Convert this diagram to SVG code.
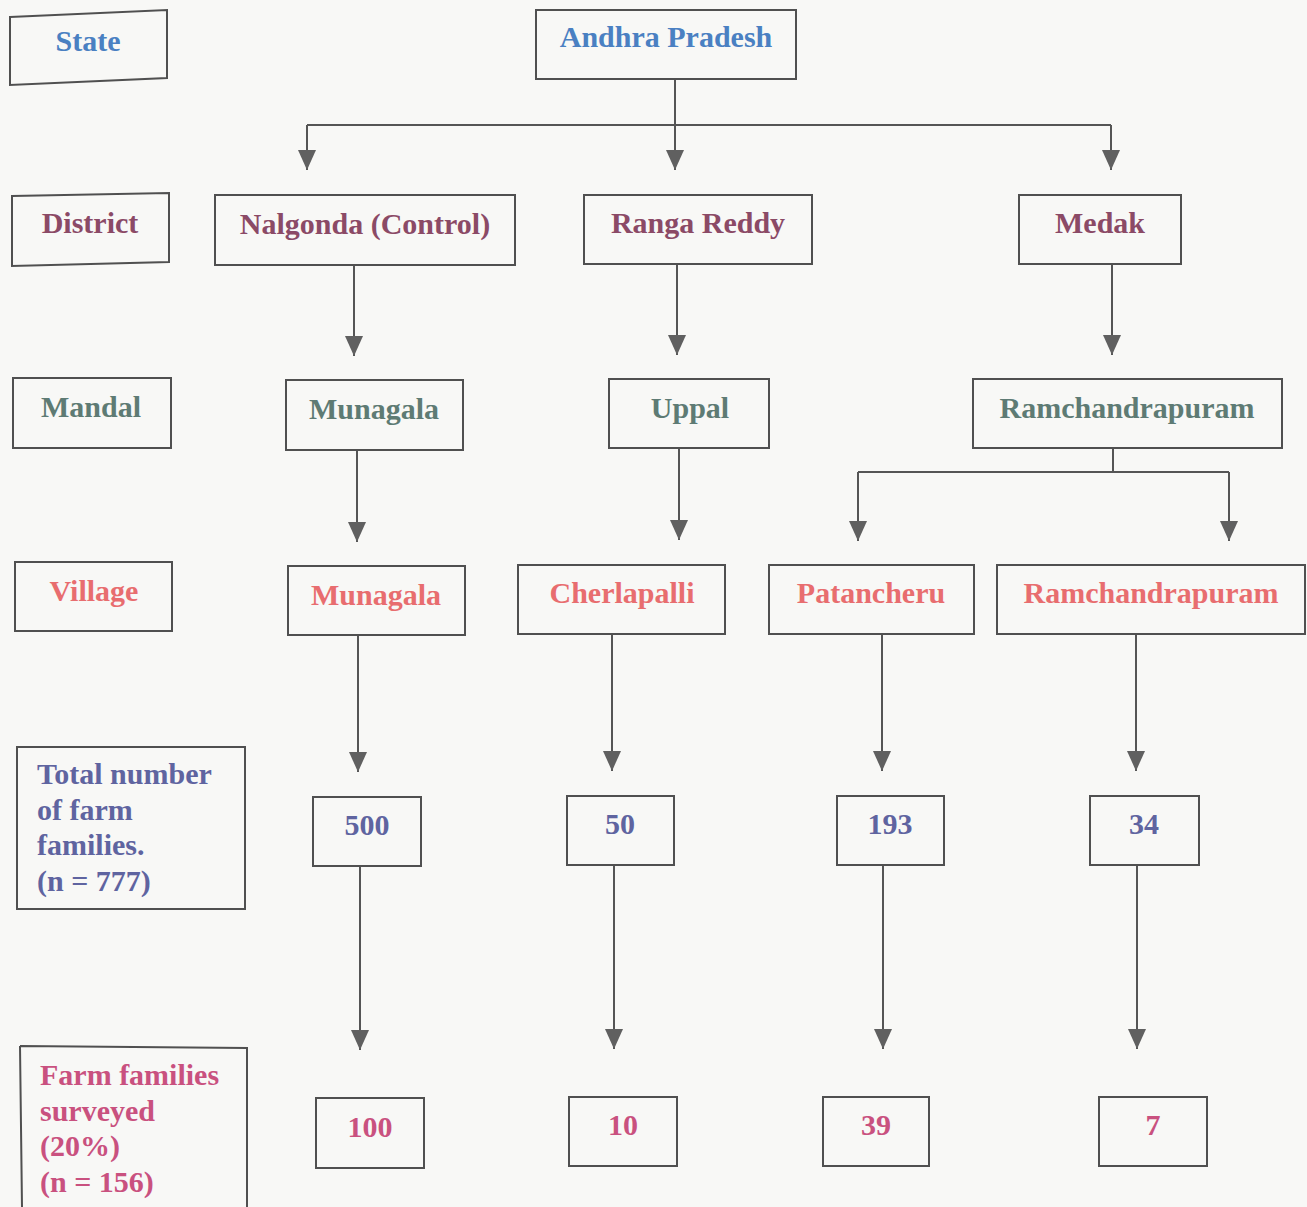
<svg xmlns="http://www.w3.org/2000/svg" width="1307" height="1207" viewBox="0 0 1307 1207">
<style>
.bx{fill:none;stroke:#505050;stroke-width:2}
.t{font-family:"Liberation Serif","DejaVu Serif","Times New Roman",serif;font-weight:bold;font-size:30px;text-anchor:middle}
.tl{font-family:"Liberation Serif","DejaVu Serif","Times New Roman",serif;font-weight:bold;font-size:30px}
.c{fill:none;stroke:#555;stroke-width:2}
.st{fill:#4a80c2}.di{fill:#8b4a66}.ma{fill:#5e7b74}.vi{fill:#e86d6f}.to{fill:#5f64a0}.su{fill:#c9517f}
</style>
<defs>
<marker id="ah" markerWidth="20" markerHeight="18" refX="20" refY="9" orient="auto" markerUnits="userSpaceOnUse" viewBox="0 0 20 18">
<path d="M0,0 L20,9 L0,18 Z" fill="#606060"/>
</marker>
</defs>
<rect width="1307" height="1207" fill="#f8f8f6"/>
<g id="connectors">
<path class="c" d="M675,79 V125"/>
<path class="c" d="M307,125 H1111"/>
<path class="c" d="M307,125 V170" marker-end="url(#ah)"/>
<path class="c" d="M675,125 V170" marker-end="url(#ah)"/>
<path class="c" d="M1111,125 V170" marker-end="url(#ah)"/>
<path class="c" d="M354,265 V356" marker-end="url(#ah)"/>
<path class="c" d="M677,264 V355" marker-end="url(#ah)"/>
<path class="c" d="M1112,264 V355" marker-end="url(#ah)"/>
<path class="c" d="M357,450 V542" marker-end="url(#ah)"/>
<path class="c" d="M679,448 V540" marker-end="url(#ah)"/>
<path class="c" d="M1113,448 V472"/>
<path class="c" d="M858,472 H1229"/>
<path class="c" d="M858,472 V541" marker-end="url(#ah)"/>
<path class="c" d="M1229,472 V541" marker-end="url(#ah)"/>
<path class="c" d="M358,635 V772" marker-end="url(#ah)"/>
<path class="c" d="M612,634 V771" marker-end="url(#ah)"/>
<path class="c" d="M882,634 V771" marker-end="url(#ah)"/>
<path class="c" d="M1136,634 V771" marker-end="url(#ah)"/>
<path class="c" d="M360,866 V1050" marker-end="url(#ah)"/>
<path class="c" d="M614,865 V1049" marker-end="url(#ah)"/>
<path class="c" d="M883,865 V1049" marker-end="url(#ah)"/>
<path class="c" d="M1137,865 V1049" marker-end="url(#ah)"/>
</g>
<g id="label-state"><path class="bx" d="M10,17 L167,10 L167,78 L10,85 Z"/><text class="t st" x="88" y="51">State</text></g>
<g id="andhra-pradesh"><rect class="bx" x="536" y="10" width="260" height="69"/><text class="t st" x="666" y="47">Andhra Pradesh</text></g>
<g id="label-district"><path class="bx" d="M12,196 L169,193 L169,262 L12,266 Z"/><text class="t di" x="90" y="233">District</text></g>
<g id="nalgonda"><rect class="bx" x="215" y="195" width="300" height="70"/><text class="t di" x="365" y="234">Nalgonda (Control)</text></g>
<g id="ranga-reddy"><rect class="bx" x="584" y="195" width="228" height="69"/><text class="t di" x="698" y="233">Ranga Reddy</text></g>
<g id="medak"><rect class="bx" x="1019" y="195" width="162" height="69"/><text class="t di" x="1100" y="233">Medak</text></g>
<g id="label-mandal"><rect class="bx" x="13" y="378" width="158" height="70"/><text class="t ma" x="91" y="417">Mandal</text></g>
<g id="mandal-munagala"><rect class="bx" x="286" y="380" width="177" height="70"/><text class="t ma" x="374" y="419">Munagala</text></g>
<g id="uppal"><rect class="bx" x="609" y="379" width="160" height="69"/><text class="t ma" x="690" y="418">Uppal</text></g>
<g id="mandal-ramchandrapuram"><rect class="bx" x="973" y="379" width="309" height="69"/><text class="t ma" x="1127" y="418">Ramchandrapuram</text></g>
<g id="label-village"><rect class="bx" x="15" y="562" width="157" height="69"/><text class="t vi" x="94" y="601">Village</text></g>
<g id="village-munagala"><rect class="bx" x="288" y="566" width="177" height="69"/><text class="t vi" x="376" y="605">Munagala</text></g>
<g id="cherlapalli"><rect class="bx" x="518" y="565" width="207" height="69"/><text class="t vi" x="622" y="603">Cherlapalli</text></g>
<g id="patancheru"><rect class="bx" x="769" y="565" width="205" height="69"/><text class="t vi" x="871" y="603">Patancheru</text></g>
<g id="village-ramchandrapuram"><rect class="bx" x="997" y="565" width="308" height="69"/><text class="t vi" x="1151" y="603">Ramchandrapuram</text></g>
<g id="label-total"><rect class="bx" x="17" y="747" width="228" height="162"/>
<text class="tl to" x="37" y="784">Total number</text>
<text class="tl to" x="37" y="820">of farm</text>
<text class="tl to" x="37" y="855">families.</text>
<text class="tl to" x="37" y="891" font-weight="normal">(n = 777)</text></g>
<g id="total-500"><rect class="bx" x="313" y="797" width="108" height="69"/><text class="t to" x="367" y="835">500</text></g>
<g id="total-50"><rect class="bx" x="567" y="796" width="107" height="69"/><text class="t to" x="620" y="834">50</text></g>
<g id="total-193"><rect class="bx" x="837" y="796" width="107" height="69"/><text class="t to" x="890" y="834">193</text></g>
<g id="total-34"><rect class="bx" x="1090" y="796" width="109" height="69"/><text class="t to" x="1144" y="834">34</text></g>
<g id="label-surveyed"><path class="bx" d="M20,1046 L247,1048 L247,1207 M20,1046 L22,1207"/>
<text class="tl su" x="40" y="1085">Farm families</text>
<text class="tl su" x="40" y="1121">surveyed</text>
<text class="tl su" x="40" y="1156" font-weight="normal">(20%)</text>
<text class="tl su" x="40" y="1192" font-weight="normal">(n = 156)</text></g>
<g id="surveyed-100"><rect class="bx" x="316" y="1098" width="108" height="70"/><text class="t su" x="370" y="1137">100</text></g>
<g id="surveyed-10"><rect class="bx" x="569" y="1097" width="108" height="69"/><text class="t su" x="623" y="1135">10</text></g>
<g id="surveyed-39"><rect class="bx" x="823" y="1097" width="106" height="69"/><text class="t su" x="876" y="1135">39</text></g>
<g id="surveyed-7"><rect class="bx" x="1099" y="1097" width="108" height="69"/><text class="t su" x="1153" y="1135">7</text></g>
</svg>
